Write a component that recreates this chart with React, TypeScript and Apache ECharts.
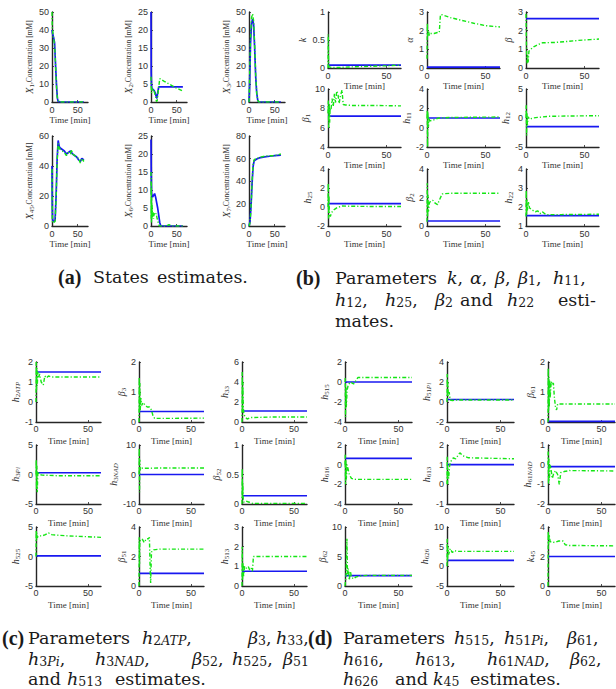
import { useEffect, useRef } from "react";
import * as echarts from "echarts";

// ---------------- Panel (a): states ----------------
const STATE_X_MAX = 70;
const stateRanges: number[][] = [[0, 50, 10], [0, 25, 5], [0, 50, 10], [0, 60, 20], [0, 25, 5], [0, 80, 20]];
const stateSubs = ["1", "2", "3", "45", "6", "7"];

const x1True = [[0, 40], [1, 38], [3, 36], [5, 33], [7, 20], [9, 8], [10.5, 2], [12, 0.3], [15, 0], [62, 0]];
const x1Est = [[0, 50], [0.5, 42], [2, 37], [4, 34], [6, 27], [8, 13], [10, 3], [12, 1], [14, 0], [62, 0]];
const x2True = [[0, 25], [0.4, 8], [1, 4.5], [2, 3.5], [4, 3.5], [6, 3.2], [8, 2.6], [10, 1.6], [11.5, 1.0], [13, 2.5], [15, 4.2], [40, 4.2], [62, 4.2]];
const x2Est = [[0, 7], [0.5, 4], [1, 2.5], [2, 3.8], [3, 3.0], [5, 3.5], [7, 2.5], [9, 1.5], [10.5, 0.2], [12, 0.3], [14, 3], [17, 6.5], [25, 5.8], [35, 5.0], [45, 4.2], [55, 3.5], [62, 3.0]];
const x3True = [[0, 0], [1, 8], [3, 33], [5, 44], [7, 46], [9, 43], [11, 30], [13, 14], [15, 5], [17, 1], [19, 0], [62, 0]];
const x3Est = [[0, 0], [1, 10], [3, 36], [5, 47], [7, 49], [9, 45], [11, 32], [13, 15], [15, 5], [17, 1], [19, 0], [62, 0]];
const x45True = [[0, 40], [0.5, 15], [1, 5], [2, 3], [4, 3], [6, 4], [8, 20], [10, 45], [12, 57], [14, 53], [16, 52], [20, 51], [24, 50], [28, 48], [32, 49], [36, 50], [40, 48], [44, 47], [48, 46], [52, 44], [55, 43], [58, 45], [62, 44]];
const x45Est = [[0, 38], [0.5, 10], [1, 2], [2, 2], [4, 2.5], [6, 3], [8, 18], [10, 43], [12, 55], [14, 52], [16, 51], [20, 50], [24, 49], [28, 47], [32, 49], [36, 48], [38, 51], [40, 48], [44, 47], [48, 46], [52, 45], [55, 42], [58, 45], [62, 43]];
const x6True = [[0, 24], [0.5, 14], [1, 9], [3, 8], [5, 8.5], [7, 9], [9, 8], [11, 6.5], [13, 5], [15, 3], [17, 1], [19, 0], [62, 0]];
const x6Est = [[0, 15], [0.3, 2], [0.6, 12], [0.9, 1], [1.2, 8], [1.6, 2], [2, 6], [3, 2.5], [4, 4], [5, 2], [6, 3.5], [8, 3], [10, 3.5], [12, 2], [14, 1], [16, 0], [30, 0], [35, 0.4], [40, 0], [62, 0]];
const x7True = [[0, 0], [2, 4], [4, 18], [6, 38], [8, 53], [10, 58], [15, 59.5], [20, 60.5], [30, 61.5], [40, 62], [50, 62.5], [62, 63]];
const x7Est = [[0, 0], [2, 3], [4, 16], [6, 40], [8, 55], [10, 59], [15, 60], [20, 61], [30, 62], [40, 62.5], [50, 62.5], [62, 64]];

const stateTrue = [x1True, x2True, x3True, x45True, x6True, x7True];
const stateEst = [x1Est, x2Est, x3Est, x45Est, x6Est, x7Est];

// ---------------- Parameter panels ----------------
const PARAM_X_MAX = 62.5;

// Panel (b)
const bNames = [["k", "", ""], ["α", "", ""], ["β", "", ""], ["β", "1", ""], ["h", "11", ""], ["h", "12", ""], ["h", "25", ""], ["β", "2", ""], ["h", "22", ""]];
const bRanges = [[0, 1, 0.5], [0, 3, 1], [0, 3, 1], [4, 10, 2], [-2, 4, 2], [-5, 5, 5], [-2, 4, 2], [0, 4, 2], [1, 4, 1]];
const bTrue = [0.05, 0.05, 2.65, 7.2, 1.0, -1.5, 0.35, 0.35, 1.55];
const estK = [[0, 0], [0.2, 0.6], [0.5, 0.05], [1, 0.02], [3, 0.01], [10, 0.01], [20, 0.02], [35, 0.03], [50, 0.04], [62.5, 0.05]];
const estAlpha = [[0, 0.5], [0.3, 2.4], [0.6, 1.7], [1.2, 2.0], [2, 1.75], [3, 1.85], [6, 1.85], [9, 1.9], [10.5, 1.9], [11.5, 2.85], [13, 2.85], [20, 2.7], [30, 2.55], [40, 2.4], [50, 2.27], [62.5, 2.2]];
const estBeta = [[0, 2.9], [0.3, 1.6], [0.6, 0.6], [1, 0.25], [1.4, 0.7], [1.8, 0.3], [2.5, 0.9], [4, 1.0], [7, 1.15], [10, 1.25], [14, 1.35], [25, 1.37], [35, 1.42], [45, 1.48], [55, 1.52], [62.5, 1.55]];
const estBeta1 = [[0, 7.5], [0.3, 8.8], [0.6, 6], [1, 8.5], [1.4, 6.5], [1.8, 8], [2.5, 7.8], [3.5, 9], [4.5, 8.2], [5.5, 9.5], [6.5, 8.6], [7.5, 9.8], [8.5, 9.5], [9.5, 8.5], [10.5, 9.2], [12, 9.9], [13, 8.4], [15, 8.35], [20, 8.3], [40, 8.3], [62.5, 8.25]];
const estH11 = [[0, 1], [0.2, 1.8], [0.5, -2], [0.8, 1.6], [1.2, 0.1], [1.8, 0.9], [2.5, 0.7], [4, 0.75], [7, 0.85], [10, 1.0], [20, 1.05], [40, 1.08], [62.5, 1.1]];
const estH12 = [[0, 0], [0.2, 2.2], [0.5, -3], [0.8, 0.8], [1.2, -1.2], [1.8, 0.2], [3, -0.2], [6, 0.0], [10, 0.1], [20, 0.3], [40, 0.35], [62.5, 0.4]];
const estH25 = [[0, 0], [0.2, 2.5], [0.5, -1.2], [0.8, 1.2], [1.2, -0.8], [2, -1.0], [3, -0.6], [5, -0.3], [8, -0.05], [12, 0.1], [20, 0.08], [40, 0.05], [62.5, 0.05]];
const estBeta2 = [[0, 0.3], [0.2, 3], [0.5, 0.6], [0.8, 2.2], [1.2, 1], [2, 1.6], [3, 1.75], [5, 1.8], [7, 1.6], [9, 1.5], [10.5, 1.8], [13, 2.25], [20, 2.3], [40, 2.3], [62.5, 2.3]];
const estH22 = [[0, 1.5], [0.2, 2.9], [0.5, 1.6], [0.8, 2.4], [1.2, 1.8], [2, 2.3], [3, 1.95], [5, 1.85], [8, 1.75], [10, 1.8], [12, 1.65], [14, 1.75], [17, 1.6], [30, 1.6], [62.5, 1.62]];
const bEst = [estK, estAlpha, estBeta, estBeta1, estH11, estH12, estH25, estBeta2, estH22];

// Panel (c)
const cNames = [["h", "2", "ATP"], ["β", "3", ""], ["h", "33", ""], ["h", "3", "Pi"], ["h", "3", "NAD"], ["β", "52", ""], ["h", "525", ""], ["β", "51", ""], ["h", "513", ""]];
const cRanges = [[-1, 2, 1], [0, 2, 1], [0, 6, 2], [-5, 5, 5], [-10, 10, 10], [0, 1, 0.5], [-5, 5, 5], [0, 4, 2], [0, 3, 1]];
const cTrue = [1.5, 0.35, 1.1, 0.3, 0, 0.14, 0.1, 0.85, 0.75];
const estH2ATP = [[0, 0], [0.2, 2], [0.5, 0.6], [0.8, 1.7], [1.2, 0.8], [1.8, 1.5], [2.5, 1.2], [3.5, 1.4], [5, 1.0], [7, 0.85], [8.5, 1.3], [10, 1.2], [12, 1.3], [15, 1.25], [30, 1.25], [62.5, 1.25]];
const estBeta3 = [[0, 0], [0.2, 1.5], [0.5, 0.3], [0.8, 1.3], [1.2, 0.4], [1.8, 0.8], [2.5, 0.55], [4, 0.65], [6, 0.55], [8, 0.5], [10, 0.5], [12, 0.4], [13.5, 0.2], [15, 0.12], [30, 0.12], [62.5, 0.13]];
const estH33 = [[0, 0], [0.2, 5], [0.5, 1], [0.8, 4], [1.2, 1.5], [1.8, 0.8], [3, 0.5], [5, 0.3], [8, 0.45], [12, 0.45], [30, 0.5], [62.5, 0.5]];
const estH3Pi = [[0, 0], [0.2, 2.5], [0.5, -2.5], [0.8, 1.5], [1.2, -3], [1.8, 0.5], [3, 0], [6, -0.1], [20, -0.2], [62.5, -0.2]];
const estH3NAD = [[0, 0], [0.2, 9], [0.5, -6], [0.8, 5], [1.2, 1.5], [2, 2.2], [5, 2.1], [20, 2.2], [62.5, 2.2]];
const estBeta52 = [[0, 0], [0.2, 0.6], [0.5, 0.1], [0.8, 0.35], [1.2, 0.05], [2, 0.03], [4, 0.05], [7, 0.03], [10, 0.01], [62.5, 0.01]];
const estH525 = [[0, 0], [0.2, 4.5], [0.5, 2.8], [0.8, 4], [1.2, 3.2], [2.5, 3.5], [6, 3.5], [9, 3.7], [12, 4.0], [15, 3.7], [30, 3.5], [62.5, 3.25]];
const estBeta51 = [[0, 0], [0.2, 3.3], [0.5, 1.5], [0.8, 3], [1.5, 3.1], [3, 3.2], [5, 2.95], [7, 3.2], [9, 3.2], [10, 3.3], [10.6, 1.5], [11.2, 0.2], [12, 2.3], [14, 2.45], [20, 2.5], [62.5, 2.5]];
const estH513 = [[0, 0], [0.2, 2], [0.5, 0.3], [0.8, 1.2], [1.5, 0.5], [2.5, 1.0], [4, 0.9], [6, 1.0], [7.5, 0.8], [9, 0.9], [10, 0.75], [11, 1.5], [13, 1.5], [20, 1.5], [62.5, 1.5]];
const cEst = [estH2ATP, estBeta3, estH33, estH3Pi, estH3NAD, estBeta52, estH525, estBeta51, estH513];

// Panel (d)
const dNames = [["h", "515", ""], ["h", "51", "Pi"], ["β", "61", ""], ["h", "616", ""], ["h", "613", ""], ["h", "61", "NAD"], ["β", "62", ""], ["h", "626", ""], ["k", "45", ""]];
const dRanges = [[-4, 2, 2], [-2, 4, 2], [0, 2, 1], [-4, 2, 2], [-1, 2, 1], [-2, 1, 1], [0, 10, 5], [-5, 10, 5], [0, 4, 2]];
const dTrue = [0, 0.25, 0.02, 0.65, 1.0, -0.1, 1.75, 1.5, 2.0];
const estH515 = [[0, 0], [0.2, 0.4], [0.5, -3.5], [0.8, -0.5], [1.2, -2.5], [2, -0.8], [3, -0.3], [5, 0], [8, -0.2], [10, 0.1], [12, 0.45], [20, 0.45], [62.5, 0.45]];
const estH51Pi = [[0, 0], [0.2, 2.8], [0.5, 0.5], [0.8, 2], [1.2, 0.6], [2, 1.0], [3, 0.2], [5, 0.15], [10, 0.2], [62.5, 0.2]];
const estBeta61 = [[0, 0], [0.2, 1.8], [0.5, 0.3], [0.8, 1.5], [1.2, 0.5], [1.6, 1.4], [2, 0.8], [3, 1.35], [4, 1.25], [5, 1.3], [6, 0.8], [7, 0.5], [8, 0.4], [9, 0.6], [12, 0.6], [62.5, 0.6]];
const estH616 = [[0, 0], [0.2, 1], [0.5, -2], [0.8, 0.5], [1.2, -1.5], [2, 0], [3, -0.5], [4, -1.0], [6, -1.4], [10, -1.5], [62.5, -1.5]];
const estH613 = [[0, 0], [0.2, 1.4], [0.5, 0], [0.8, 0.8], [1.5, 0.3], [2.5, 1], [4, 1.2], [6, 1.35], [8, 1.3], [10, 1.45], [12, 1.6], [15, 1.45], [20, 1.35], [62.5, 1.3]];
const estH61NAD = [[0, 0], [0.2, 0.8], [0.5, -1], [0.8, 0.3], [1.2, -0.8], [2, 0], [3, -0.3], [4, -0.7], [5, -0.5], [7, -0.3], [9, -0.5], [10.5, -1], [12, -0.4], [15, -0.35], [20, -0.3], [62.5, -0.32]];
const estBeta62 = [[0, 0], [0.5, 1], [1, 1.5], [1.8, 8], [2.3, 2], [3, 3], [4, 1], [5, 2.5], [6, 1.5], [8, 1.2], [10, 1.5], [14, 1.7], [20, 1.8], [62.5, 1.8]];
const estH626 = [[0, 0], [0.2, 7], [0.5, 1], [0.8, 5], [1.5, 3], [3, 4.5], [5, 3.5], [7, 4], [9, 3.8], [12, 3.8], [20, 3.8], [62.5, 3.8]];
const estK45 = [[0, 0], [0.2, 3.7], [0.5, 2.8], [1, 3.5], [2, 3], [4, 3.0], [6, 2.95], [10, 3.05], [14, 3.05], [16, 2.8], [20, 2.75], [62.5, 2.72]];
const dEst = [estH515, estH51Pi, estBeta61, estH616, estH613, estH61NAD, estBeta62, estH626, estK45];

// ---------------- Captions (words) ----------------
const capAWords = ["{b|(a)}", "{r|States}", "{r|estimates.}"];
const capBLine1 = ["{b|(b)}", "{r|Parameters}", "{i|k}{r|,}", "{i|α}{r|,}", "{i|β}{r|,}", "{i|β}{s|1}{r|,}", "{i|h}{s|11}{r|,}"];
const capBLine2 = ["{i|h}{s|12}{r|,}", "{i|h}{s|25}{r|,}", "{i|β}{s|2}", "{r|and}", "{i|h}{s|22}", "{r|esti-}"];
const capBLine3 = ["{r|mates.}"];
const capCLine1 = ["{b|(c)}", "{r|Parameters}", "{i|h}{s|2}{si|ATP}{r|,}", "{i|β}{s|3}{r|,}", "{i|h}{s|33}{r|,}"];
const capCLine2 = ["{i|h}{s|3}{si|Pi}{r|,}", "{i|h}{s|3}{si|NAD}{r|,}", "{i|β}{s|52}{r|,}", "{i|h}{s|525}{r|,}", "{i|β}{s|51}"];
const capCLine3 = ["{r|and}", "{i|h}{s|513}", "{r|estimates.}"];
const capDLine1 = ["{b|(d)}", "{r|Parameters}", "{i|h}{s|515}{r|,}", "{i|h}{s|51}{si|Pi}{r|,}", "{i|β}{s|61}{r|,}"];
const capDLine2 = ["{i|h}{s|616}{r|,}", "{i|h}{s|613}{r|,}", "{i|h}{s|61}{si|NAD}{r|,}", "{i|β}{s|62}{r|,}"];
const capDLine3 = ["{i|h}{s|626}", "{r|and}", "{i|k}{s|45}", "{r|estimates.}"];

// ---------------- Styling ----------------
const SERIF = "'Liberation Serif', 'DejaVu Serif', serif";
const CAPF = "'DejaVu Serif', serif";
const BOLDF = "'Liberation Serif', serif";
const SANS = "'Liberation Sans', Arial, sans-serif";
const BLUE = "#1818f0";
const GREEN = "#14e614";
const AX = "#262626";
const TXT = "#333";

const nameRich: any = {
  i: { fontFamily: SERIF, fontStyle: "italic", fontSize: 10, color: TXT, lineHeight: 12 },
  r: { fontFamily: SERIF, fontSize: 7.5, color: TXT, lineHeight: 12 },
  s: { fontFamily: SERIF, fontSize: 7, color: TXT, lineHeight: 7, verticalAlign: "bottom" },
  si: { fontFamily: SERIF, fontStyle: "italic", fontSize: 7, color: TXT, lineHeight: 7, verticalAlign: "bottom" },
};

function paramName(p: string[]) {
  let s = `{i|${p[0]}}`;
  if (p[1]) s += `{s|${p[1]}}`;
  if (p[2]) s += `{si|${p[2]}}`;
  return s;
}

function labelWidth(min: number, max: number, step: number) {
  let w = 0;
  for (let v = min; v <= max + 1e-9; v += step) {
    const str = String(Math.round(v * 100) / 100);
    let ww = 0;
    for (const c of str) ww += c === "-" ? 3 : c === "." ? 2.5 : 5;
    w = Math.max(w, ww);
  }
  return w;
}

function buildOption() {
  const grid: any[] = [];
  const xAxis: any[] = [];
  const yAxis: any[] = [];
  const series: any[] = [];

  const add = (left: number, top: number, width: number, height: number, xMax: number, yr: number[], name: string,
    trueData: number[][], estData: number[][], xLabelMargin: number, xNameGap: number) => {
    const idx = grid.length;
    grid.push({ left, top, width, height });
    xAxis.push({
      gridIndex: idx, type: "value", min: 0, max: xMax, interval: 50,
      axisLine: { show: true, onZero: false, lineStyle: { color: AX, width: 1.4 } },
      axisTick: { show: true, inside: true, length: 2, lineStyle: { color: AX, width: 0.8 } },
      axisLabel: { fontFamily: SANS, fontSize: 9, color: TXT, margin: xLabelMargin, showMaxLabel: false },
      splitLine: { show: false },
      name: "Time [min]", nameLocation: "middle", nameGap: xNameGap,
      nameTextStyle: { fontFamily: SERIF, fontSize: 9, color: TXT },
    });
    const lw = labelWidth(yr[0], yr[1], yr[2]);
    yAxis.push({
      gridIndex: idx, type: "value", min: yr[0], max: yr[1], interval: yr[2],
      axisLine: { show: true, onZero: false, lineStyle: { color: AX, width: 1.4 } },
      axisTick: { show: true, inside: true, length: 2, lineStyle: { color: AX, width: 0.8 } },
      axisLabel: { fontFamily: SANS, fontSize: 9, color: TXT, margin: 3 },
      splitLine: { show: false },
      name, nameLocation: "middle", nameRotate: 90, nameGap: 3 + lw + 4,
      nameTextStyle: { rich: nameRich },
    });
    series.push({
      type: "line", xAxisIndex: idx, yAxisIndex: idx, data: trueData, showSymbol: false, symbol: "none",
      lineStyle: { color: BLUE, width: 1.7 }, z: 2,
    });
    series.push({
      type: "line", xAxisIndex: idx, yAxisIndex: idx, data: estData, showSymbol: false, symbol: "none",
      lineStyle: { color: GREEN, width: 1.4, type: [4, 2, 1.2, 2] }, z: 3,
    });
  };

  // (a)
  const aCols = [52, 151, 249];
  const aRows = [12, 136];
  for (let i = 0; i < 6; i++) {
    const c = i % 3, r = Math.floor(i / 3);
    add(aCols[c], aRows[r], 36, 90, STATE_X_MAX, stateRanges[i],
      `{i|X}{s|${stateSubs[i]}}{r|,Concentration [mM]}`, stateTrue[i], stateEst[i], 3.5, 12);
  }
  // (b)
  const bCols = [328, 427, 526];
  const bRows = [12, 89, 169];
  const bH = [56, 58, 57];
  for (let i = 0; i < 9; i++) {
    const c = i % 3, r = Math.floor(i / 3);
    add(bCols[c], bRows[r], 73, bH[r], PARAM_X_MAX, bRanges[i], paramName(bNames[i]),
      [[0, bTrue[i]], [PARAM_X_MAX, bTrue[i]]], bEst[i], 3.5, 12);
  }
  // (c) and (d)
  const cCols = [36, 139, 242];
  const dCols = [345, 447, 548];
  const cdRows = [362, 445, 527];
  const cdH = [60, 59, 59];
  for (let i = 0; i < 9; i++) {
    const c = i % 3, r = Math.floor(i / 3);
    add(cCols[c], cdRows[r], 65, cdH[r], PARAM_X_MAX, cRanges[i], paramName(cNames[i]),
      [[0, cTrue[i]], [PARAM_X_MAX, cTrue[i]]], cEst[i], 2, 14);
    add(dCols[c], cdRows[r], 67, cdH[r], PARAM_X_MAX, dRanges[i], paramName(dNames[i]),
      [[0, dTrue[i]], [PARAM_X_MAX, dTrue[i]]], dEst[i], 2, 14);
  }

  const CF = "#1a1a1a";
  const FS = 17.5;
  const capRich: any = {
    r: { fontFamily: CAPF, fontSize: FS, lineHeight: 18, fill: CF },
    b: { fontFamily: BOLDF, fontSize: 20, lineHeight: 18, fontWeight: "bold", fill: CF },
    i: { fontFamily: CAPF, fontSize: FS, lineHeight: 18, fontStyle: "italic", fill: CF },
    s: { fontFamily: CAPF, fontSize: 12.5, lineHeight: 10, verticalAlign: "bottom", fill: CF },
    si: { fontFamily: CAPF, fontSize: 12.5, lineHeight: 10, fontStyle: "italic", verticalAlign: "bottom", fill: CF },
  };
  const graphic: any[] = [];
  const line = (y: number, words: string[], xs: number[]) => {
    words.forEach((w, k) => {
      graphic.push({
        type: "text", x: xs[k], y, silent: true,
        style: { text: w, rich: capRich, fontFamily: CAPF, fontSize: FS, fill: CF, verticalAlign: "middle", align: "left" },
      });
    });
  };
  line(277, capAWords, [58, 93, 157]);
  line(278, capBLine1, [296, 335, 447, 470, 495, 518, 553]);
  line(300, capBLine2, [335, 385, 435, 460, 507, 558]);
  line(321, capBLine3, [335]);
  line(638, capCLine1, [2, 28, 142, 248, 276]);
  line(659, capCLine2, [28, 95, 192, 232, 283]);
  line(679, capCLine3, [28, 67, 115]);
  line(638, capDLine1, [308, 343, 454, 504, 567]);
  line(659, capDLine2, [343, 415, 487, 570]);
  line(679, capDLine3, [343, 395, 433, 470]);

  return { animation: false, backgroundColor: "#fff", grid, xAxis, yAxis, series, graphic };
}

export default function App() {
  const ref = useRef<HTMLDivElement>(null);
  useEffect(() => {
    if (!ref.current) return;
    const chart = echarts.init(ref.current, undefined, { renderer: "svg" });
    chart.setOption(buildOption() as any);
    return () => chart.dispose();
  }, []);
  return <div ref={ref} style={{ position: "absolute", left: 0, top: 0, width: 616, height: 689 }} />;
}
